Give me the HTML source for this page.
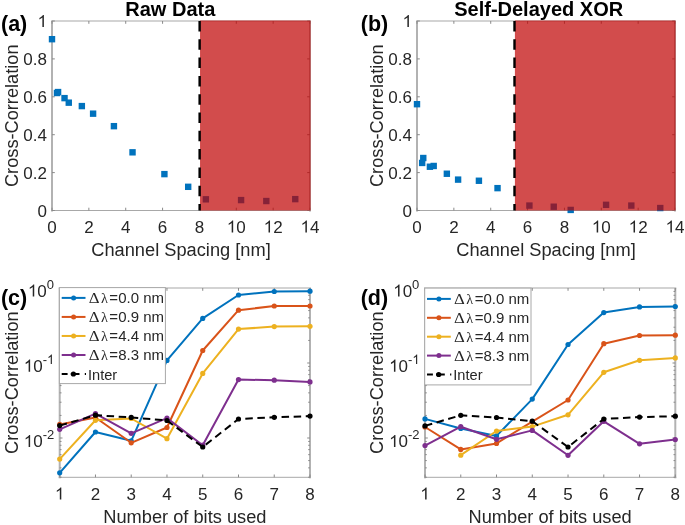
<!DOCTYPE html>
<html><head><meta charset="utf-8"><style>
html,body{margin:0;padding:0;background:#fff;width:685px;height:525px;overflow:hidden}
svg{display:block;font-family:"Liberation Sans", sans-serif;will-change:transform;font-kerning:none}
</style></head><body>
<svg width="685" height="525" viewBox="0 0 685 525">
<rect width="685" height="525" fill="#fff"/>
<rect x="51" y="21" width="2" height="190.5" fill="#b2b2b2"/>
<rect x="309" y="21" width="2" height="190.5" fill="#b2b2b2"/>
<rect x="51" y="20.5" width="260" height="1" fill="#a8a8a8"/>
<rect x="51" y="210.0" width="260" height="1" fill="#a8a8a8"/>
<rect x="51.50" y="207.7" width="1" height="2.8" fill="#8a8a8a"/>
<rect x="51.50" y="21" width="1" height="2.8" fill="#8a8a8a"/>
<rect x="88.36" y="207.7" width="1" height="2.8" fill="#8a8a8a"/>
<rect x="88.36" y="21" width="1" height="2.8" fill="#8a8a8a"/>
<rect x="125.21" y="207.7" width="1" height="2.8" fill="#8a8a8a"/>
<rect x="125.21" y="21" width="1" height="2.8" fill="#8a8a8a"/>
<rect x="162.07" y="207.7" width="1" height="2.8" fill="#8a8a8a"/>
<rect x="162.07" y="21" width="1" height="2.8" fill="#8a8a8a"/>
<rect x="198.93" y="207.7" width="1" height="2.8" fill="#8a8a8a"/>
<rect x="198.93" y="21" width="1" height="2.8" fill="#8a8a8a"/>
<rect x="235.79" y="207.7" width="1" height="2.8" fill="#8a8a8a"/>
<rect x="235.79" y="21" width="1" height="2.8" fill="#8a8a8a"/>
<rect x="272.64" y="207.7" width="1" height="2.8" fill="#8a8a8a"/>
<rect x="272.64" y="21" width="1" height="2.8" fill="#8a8a8a"/>
<rect x="309.50" y="207.7" width="1" height="2.8" fill="#8a8a8a"/>
<rect x="309.50" y="21" width="1" height="2.8" fill="#8a8a8a"/>
<rect x="52" y="210.00" width="2.8" height="1.0" fill="#8a8a8a"/>
<rect x="307.2" y="210.00" width="2.8" height="1.0" fill="#8a8a8a"/>
<rect x="52" y="172.10" width="2.8" height="1.0" fill="#8a8a8a"/>
<rect x="307.2" y="172.10" width="2.8" height="1.0" fill="#8a8a8a"/>
<rect x="52" y="134.20" width="2.8" height="1.0" fill="#8a8a8a"/>
<rect x="307.2" y="134.20" width="2.8" height="1.0" fill="#8a8a8a"/>
<rect x="52" y="96.30" width="2.8" height="1.0" fill="#8a8a8a"/>
<rect x="307.2" y="96.30" width="2.8" height="1.0" fill="#8a8a8a"/>
<rect x="52" y="58.40" width="2.8" height="1.0" fill="#8a8a8a"/>
<rect x="307.2" y="58.40" width="2.8" height="1.0" fill="#8a8a8a"/>
<rect x="52" y="20.50" width="2.8" height="1.0" fill="#8a8a8a"/>
<rect x="307.2" y="20.50" width="2.8" height="1.0" fill="#8a8a8a"/>
<rect x="48.80" y="35.99" width="6.4" height="6.4" fill="#0072bd"/>
<rect x="53.78" y="89.81" width="6.4" height="6.4" fill="#0072bd"/>
<rect x="54.88" y="88.86" width="6.4" height="6.4" fill="#0072bd"/>
<rect x="61.33" y="94.93" width="6.4" height="6.4" fill="#0072bd"/>
<rect x="65.57" y="99.47" width="6.4" height="6.4" fill="#0072bd"/>
<rect x="78.65" y="102.89" width="6.4" height="6.4" fill="#0072bd"/>
<rect x="89.90" y="110.47" width="6.4" height="6.4" fill="#0072bd"/>
<rect x="110.72" y="122.97" width="6.4" height="6.4" fill="#0072bd"/>
<rect x="129.33" y="149.12" width="6.4" height="6.4" fill="#0072bd"/>
<rect x="161.21" y="170.92" width="6.4" height="6.4" fill="#0072bd"/>
<rect x="184.99" y="183.61" width="6.4" height="6.4" fill="#0072bd"/>
<rect x="202.68" y="196.12" width="6.4" height="6.4" fill="#0072bd"/>
<rect x="237.88" y="196.88" width="6.4" height="6.4" fill="#0072bd"/>
<rect x="263.12" y="197.83" width="6.4" height="6.4" fill="#0072bd"/>
<rect x="292.06" y="195.93" width="6.4" height="6.4" fill="#0072bd"/>
<rect x="200.03" y="20.5" width="110.57" height="190.0" fill="rgb(191,0,0)" fill-opacity="0.7"/>
<line x1="199.63" y1="21" x2="199.63" y2="210.5" stroke="#000" stroke-width="2.4" stroke-dasharray="10.5 7.8"/>
<text transform="translate(47.27 232.60) scale(1 1.0)" font-size="17" fill="#262626">0</text>
<text transform="translate(84.13 232.60) scale(1 1.0)" font-size="17" fill="#262626">2</text>
<text transform="translate(120.98 232.60) scale(1 1.0)" font-size="17" fill="#262626">4</text>
<text transform="translate(157.84 232.60) scale(1 1.0)" font-size="17" fill="#262626">6</text>
<text transform="translate(194.70 232.60) scale(1 1.0)" font-size="17" fill="#262626">8</text>
<path transform="translate(226.84 232.60) scale(0.00830 -0.00830)" d="M763 0H583V1147Q518 1085 412.5 1023T223 930V1104Q375 1175 489 1276T650 1472H763V0Z" fill="#262626"/>
<text transform="translate(236.29 232.60) scale(1 1.0)" font-size="17" fill="#262626">0</text>
<path transform="translate(263.69 232.60) scale(0.00830 -0.00830)" d="M763 0H583V1147Q518 1085 412.5 1023T223 930V1104Q375 1175 489 1276T650 1472H763V0Z" fill="#262626"/>
<text transform="translate(273.14 232.60) scale(1 1.0)" font-size="17" fill="#262626">2</text>
<path transform="translate(300.55 232.60) scale(0.00830 -0.00830)" d="M763 0H583V1147Q518 1085 412.5 1023T223 930V1104Q375 1175 489 1276T650 1472H763V0Z" fill="#262626"/>
<text transform="translate(310.00 232.60) scale(1 1.0)" font-size="17" fill="#262626">4</text>
<text transform="translate(37.55 216.60) scale(1 1.0)" font-size="17" fill="#262626">0</text>
<text transform="translate(23.37 178.70) scale(1 1.0)" font-size="17" fill="#262626">0</text>
<text transform="translate(32.82 178.70) scale(1 1.0)" font-size="17" fill="#262626">.</text>
<text transform="translate(37.55 178.70) scale(1 1.0)" font-size="17" fill="#262626">2</text>
<text transform="translate(23.37 140.80) scale(1 1.0)" font-size="17" fill="#262626">0</text>
<text transform="translate(32.82 140.80) scale(1 1.0)" font-size="17" fill="#262626">.</text>
<text transform="translate(37.55 140.80) scale(1 1.0)" font-size="17" fill="#262626">4</text>
<text transform="translate(23.37 102.90) scale(1 1.0)" font-size="17" fill="#262626">0</text>
<text transform="translate(32.82 102.90) scale(1 1.0)" font-size="17" fill="#262626">.</text>
<text transform="translate(37.55 102.90) scale(1 1.0)" font-size="17" fill="#262626">6</text>
<text transform="translate(23.37 65.00) scale(1 1.0)" font-size="17" fill="#262626">0</text>
<text transform="translate(32.82 65.00) scale(1 1.0)" font-size="17" fill="#262626">.</text>
<text transform="translate(37.55 65.00) scale(1 1.0)" font-size="17" fill="#262626">8</text>
<path transform="translate(37.55 27.10) scale(0.00830 -0.00830)" d="M763 0H583V1147Q518 1085 412.5 1023T223 930V1104Q375 1175 489 1276T650 1472H763V0Z" fill="#262626"/>
<text transform="translate(181.00 255.9) scale(1 1.03)" font-size="18.25" text-anchor="middle" font-weight="normal" fill="#262626" >Channel Spacing [nm]</text>
<text transform="translate(17.80 115.75) rotate(-90) scale(1 1.03)" font-size="18.2" text-anchor="middle" fill="#262626">Cross-Correlation</text>
<text transform="translate(125.3 15.5) scale(1 1.0)" font-size="20" text-anchor="start" font-weight="bold" fill="#000" >Raw Data</text>
<text transform="translate(1.0 31.4) scale(1 1.03)" font-size="21.5" text-anchor="start" font-weight="bold" fill="#000" >(a)</text>
<rect x="416" y="21" width="2" height="190.5" fill="#b2b2b2"/>
<rect x="674" y="21" width="2" height="190.5" fill="#b2b2b2"/>
<rect x="416" y="20.5" width="260" height="1" fill="#a8a8a8"/>
<rect x="416" y="210.0" width="260" height="1" fill="#a8a8a8"/>
<rect x="416.50" y="207.7" width="1" height="2.8" fill="#8a8a8a"/>
<rect x="416.50" y="21" width="1" height="2.8" fill="#8a8a8a"/>
<rect x="453.36" y="207.7" width="1" height="2.8" fill="#8a8a8a"/>
<rect x="453.36" y="21" width="1" height="2.8" fill="#8a8a8a"/>
<rect x="490.21" y="207.7" width="1" height="2.8" fill="#8a8a8a"/>
<rect x="490.21" y="21" width="1" height="2.8" fill="#8a8a8a"/>
<rect x="527.07" y="207.7" width="1" height="2.8" fill="#8a8a8a"/>
<rect x="527.07" y="21" width="1" height="2.8" fill="#8a8a8a"/>
<rect x="563.93" y="207.7" width="1" height="2.8" fill="#8a8a8a"/>
<rect x="563.93" y="21" width="1" height="2.8" fill="#8a8a8a"/>
<rect x="600.79" y="207.7" width="1" height="2.8" fill="#8a8a8a"/>
<rect x="600.79" y="21" width="1" height="2.8" fill="#8a8a8a"/>
<rect x="637.64" y="207.7" width="1" height="2.8" fill="#8a8a8a"/>
<rect x="637.64" y="21" width="1" height="2.8" fill="#8a8a8a"/>
<rect x="674.50" y="207.7" width="1" height="2.8" fill="#8a8a8a"/>
<rect x="674.50" y="21" width="1" height="2.8" fill="#8a8a8a"/>
<rect x="417" y="210.00" width="2.8" height="1.0" fill="#8a8a8a"/>
<rect x="672.2" y="210.00" width="2.8" height="1.0" fill="#8a8a8a"/>
<rect x="417" y="172.10" width="2.8" height="1.0" fill="#8a8a8a"/>
<rect x="672.2" y="172.10" width="2.8" height="1.0" fill="#8a8a8a"/>
<rect x="417" y="134.20" width="2.8" height="1.0" fill="#8a8a8a"/>
<rect x="672.2" y="134.20" width="2.8" height="1.0" fill="#8a8a8a"/>
<rect x="417" y="96.30" width="2.8" height="1.0" fill="#8a8a8a"/>
<rect x="672.2" y="96.30" width="2.8" height="1.0" fill="#8a8a8a"/>
<rect x="417" y="58.40" width="2.8" height="1.0" fill="#8a8a8a"/>
<rect x="672.2" y="58.40" width="2.8" height="1.0" fill="#8a8a8a"/>
<rect x="417" y="20.50" width="2.8" height="1.0" fill="#8a8a8a"/>
<rect x="672.2" y="20.50" width="2.8" height="1.0" fill="#8a8a8a"/>
<rect x="413.80" y="100.99" width="6.4" height="6.4" fill="#0072bd"/>
<rect x="418.96" y="159.74" width="6.4" height="6.4" fill="#0072bd"/>
<rect x="420.07" y="154.81" width="6.4" height="6.4" fill="#0072bd"/>
<rect x="426.70" y="163.53" width="6.4" height="6.4" fill="#0072bd"/>
<rect x="430.50" y="162.77" width="6.4" height="6.4" fill="#0072bd"/>
<rect x="443.65" y="170.54" width="6.4" height="6.4" fill="#0072bd"/>
<rect x="454.90" y="176.41" width="6.4" height="6.4" fill="#0072bd"/>
<rect x="475.72" y="177.55" width="6.4" height="6.4" fill="#0072bd"/>
<rect x="494.33" y="184.94" width="6.4" height="6.4" fill="#0072bd"/>
<rect x="526.21" y="202.37" width="6.4" height="6.4" fill="#0072bd"/>
<rect x="550.54" y="203.51" width="6.4" height="6.4" fill="#0072bd"/>
<rect x="567.49" y="206.73" width="6.4" height="6.4" fill="#0072bd"/>
<rect x="602.88" y="201.62" width="6.4" height="6.4" fill="#0072bd"/>
<rect x="628.12" y="202.37" width="6.4" height="6.4" fill="#0072bd"/>
<rect x="657.06" y="204.84" width="6.4" height="6.4" fill="#0072bd"/>
<rect x="514.90" y="20.5" width="160.70" height="190.0" fill="rgb(191,0,0)" fill-opacity="0.7"/>
<line x1="514.50" y1="21" x2="514.50" y2="210.5" stroke="#000" stroke-width="2.4" stroke-dasharray="10.5 7.8"/>
<text transform="translate(412.27 232.60) scale(1 1.0)" font-size="17" fill="#262626">0</text>
<text transform="translate(449.13 232.60) scale(1 1.0)" font-size="17" fill="#262626">2</text>
<text transform="translate(485.98 232.60) scale(1 1.0)" font-size="17" fill="#262626">4</text>
<text transform="translate(522.84 232.60) scale(1 1.0)" font-size="17" fill="#262626">6</text>
<text transform="translate(559.70 232.60) scale(1 1.0)" font-size="17" fill="#262626">8</text>
<path transform="translate(591.84 232.60) scale(0.00830 -0.00830)" d="M763 0H583V1147Q518 1085 412.5 1023T223 930V1104Q375 1175 489 1276T650 1472H763V0Z" fill="#262626"/>
<text transform="translate(601.29 232.60) scale(1 1.0)" font-size="17" fill="#262626">0</text>
<path transform="translate(628.69 232.60) scale(0.00830 -0.00830)" d="M763 0H583V1147Q518 1085 412.5 1023T223 930V1104Q375 1175 489 1276T650 1472H763V0Z" fill="#262626"/>
<text transform="translate(638.14 232.60) scale(1 1.0)" font-size="17" fill="#262626">2</text>
<path transform="translate(665.55 232.60) scale(0.00830 -0.00830)" d="M763 0H583V1147Q518 1085 412.5 1023T223 930V1104Q375 1175 489 1276T650 1472H763V0Z" fill="#262626"/>
<text transform="translate(675.00 232.60) scale(1 1.0)" font-size="17" fill="#262626">4</text>
<text transform="translate(402.55 216.60) scale(1 1.0)" font-size="17" fill="#262626">0</text>
<text transform="translate(388.37 178.70) scale(1 1.0)" font-size="17" fill="#262626">0</text>
<text transform="translate(397.82 178.70) scale(1 1.0)" font-size="17" fill="#262626">.</text>
<text transform="translate(402.55 178.70) scale(1 1.0)" font-size="17" fill="#262626">2</text>
<text transform="translate(388.37 140.80) scale(1 1.0)" font-size="17" fill="#262626">0</text>
<text transform="translate(397.82 140.80) scale(1 1.0)" font-size="17" fill="#262626">.</text>
<text transform="translate(402.55 140.80) scale(1 1.0)" font-size="17" fill="#262626">4</text>
<text transform="translate(388.37 102.90) scale(1 1.0)" font-size="17" fill="#262626">0</text>
<text transform="translate(397.82 102.90) scale(1 1.0)" font-size="17" fill="#262626">.</text>
<text transform="translate(402.55 102.90) scale(1 1.0)" font-size="17" fill="#262626">6</text>
<text transform="translate(388.37 65.00) scale(1 1.0)" font-size="17" fill="#262626">0</text>
<text transform="translate(397.82 65.00) scale(1 1.0)" font-size="17" fill="#262626">.</text>
<text transform="translate(402.55 65.00) scale(1 1.0)" font-size="17" fill="#262626">8</text>
<path transform="translate(402.55 27.10) scale(0.00830 -0.00830)" d="M763 0H583V1147Q518 1085 412.5 1023T223 930V1104Q375 1175 489 1276T650 1472H763V0Z" fill="#262626"/>
<text transform="translate(546.00 255.9) scale(1 1.03)" font-size="18.25" text-anchor="middle" font-weight="normal" fill="#262626" >Channel Spacing [nm]</text>
<text transform="translate(382.80 115.75) rotate(-90) scale(1 1.03)" font-size="18.2" text-anchor="middle" fill="#262626">Cross-Correlation</text>
<text transform="translate(454.2 15.5) scale(1 1.0)" font-size="20" text-anchor="start" font-weight="bold" fill="#000" >Self-Delayed XOR</text>
<text transform="translate(360.8 31.4) scale(1 1.03)" font-size="21.5" text-anchor="start" font-weight="bold" fill="#000" >(b)</text>
<rect x="58.7" y="288" width="2" height="190.3" fill="#b2b2b2"/>
<rect x="309" y="288" width="2" height="190.3" fill="#b2b2b2"/>
<rect x="58.7" y="287.5" width="252.3" height="1" fill="#a8a8a8"/>
<rect x="58.7" y="476.8" width="252.3" height="1" fill="#a8a8a8"/>
<rect x="59.20" y="474.5" width="1" height="2.8" fill="#8a8a8a"/>
<rect x="59.20" y="288" width="1" height="2.8" fill="#8a8a8a"/>
<rect x="94.96" y="474.5" width="1" height="2.8" fill="#8a8a8a"/>
<rect x="94.96" y="288" width="1" height="2.8" fill="#8a8a8a"/>
<rect x="130.71" y="474.5" width="1" height="2.8" fill="#8a8a8a"/>
<rect x="130.71" y="288" width="1" height="2.8" fill="#8a8a8a"/>
<rect x="166.47" y="474.5" width="1" height="2.8" fill="#8a8a8a"/>
<rect x="166.47" y="288" width="1" height="2.8" fill="#8a8a8a"/>
<rect x="202.23" y="474.5" width="1" height="2.8" fill="#8a8a8a"/>
<rect x="202.23" y="288" width="1" height="2.8" fill="#8a8a8a"/>
<rect x="237.99" y="474.5" width="1" height="2.8" fill="#8a8a8a"/>
<rect x="237.99" y="288" width="1" height="2.8" fill="#8a8a8a"/>
<rect x="273.74" y="474.5" width="1" height="2.8" fill="#8a8a8a"/>
<rect x="273.74" y="288" width="1" height="2.8" fill="#8a8a8a"/>
<rect x="309.50" y="474.5" width="1" height="2.8" fill="#8a8a8a"/>
<rect x="309.50" y="288" width="1" height="2.8" fill="#8a8a8a"/>
<rect x="59.7" y="476.72" width="1.8" height="1" fill="#8a8a8a"/>
<rect x="308.2" y="476.72" width="1.8" height="1" fill="#8a8a8a"/>
<rect x="59.7" y="467.35" width="1.8" height="1" fill="#8a8a8a"/>
<rect x="308.2" y="467.35" width="1.8" height="1" fill="#8a8a8a"/>
<rect x="59.7" y="460.08" width="1.8" height="1" fill="#8a8a8a"/>
<rect x="308.2" y="460.08" width="1.8" height="1" fill="#8a8a8a"/>
<rect x="59.7" y="454.14" width="1.8" height="1" fill="#8a8a8a"/>
<rect x="308.2" y="454.14" width="1.8" height="1" fill="#8a8a8a"/>
<rect x="59.7" y="449.12" width="1.8" height="1" fill="#8a8a8a"/>
<rect x="308.2" y="449.12" width="1.8" height="1" fill="#8a8a8a"/>
<rect x="59.7" y="444.77" width="1.8" height="1" fill="#8a8a8a"/>
<rect x="308.2" y="444.77" width="1.8" height="1" fill="#8a8a8a"/>
<rect x="59.7" y="440.93" width="1.8" height="1" fill="#8a8a8a"/>
<rect x="308.2" y="440.93" width="1.8" height="1" fill="#8a8a8a"/>
<rect x="59.7" y="437.50" width="2.8" height="1" fill="#8a8a8a"/>
<rect x="307.2" y="437.50" width="2.8" height="1" fill="#8a8a8a"/>
<rect x="59.7" y="414.92" width="1.8" height="1" fill="#8a8a8a"/>
<rect x="308.2" y="414.92" width="1.8" height="1" fill="#8a8a8a"/>
<rect x="59.7" y="401.72" width="1.8" height="1" fill="#8a8a8a"/>
<rect x="308.2" y="401.72" width="1.8" height="1" fill="#8a8a8a"/>
<rect x="59.7" y="392.35" width="1.8" height="1" fill="#8a8a8a"/>
<rect x="308.2" y="392.35" width="1.8" height="1" fill="#8a8a8a"/>
<rect x="59.7" y="385.08" width="1.8" height="1" fill="#8a8a8a"/>
<rect x="308.2" y="385.08" width="1.8" height="1" fill="#8a8a8a"/>
<rect x="59.7" y="379.14" width="1.8" height="1" fill="#8a8a8a"/>
<rect x="308.2" y="379.14" width="1.8" height="1" fill="#8a8a8a"/>
<rect x="59.7" y="374.12" width="1.8" height="1" fill="#8a8a8a"/>
<rect x="308.2" y="374.12" width="1.8" height="1" fill="#8a8a8a"/>
<rect x="59.7" y="369.77" width="1.8" height="1" fill="#8a8a8a"/>
<rect x="308.2" y="369.77" width="1.8" height="1" fill="#8a8a8a"/>
<rect x="59.7" y="365.93" width="1.8" height="1" fill="#8a8a8a"/>
<rect x="308.2" y="365.93" width="1.8" height="1" fill="#8a8a8a"/>
<rect x="59.7" y="362.50" width="2.8" height="1" fill="#8a8a8a"/>
<rect x="307.2" y="362.50" width="2.8" height="1" fill="#8a8a8a"/>
<rect x="59.7" y="339.92" width="1.8" height="1" fill="#8a8a8a"/>
<rect x="308.2" y="339.92" width="1.8" height="1" fill="#8a8a8a"/>
<rect x="59.7" y="326.72" width="1.8" height="1" fill="#8a8a8a"/>
<rect x="308.2" y="326.72" width="1.8" height="1" fill="#8a8a8a"/>
<rect x="59.7" y="317.35" width="1.8" height="1" fill="#8a8a8a"/>
<rect x="308.2" y="317.35" width="1.8" height="1" fill="#8a8a8a"/>
<rect x="59.7" y="310.08" width="1.8" height="1" fill="#8a8a8a"/>
<rect x="308.2" y="310.08" width="1.8" height="1" fill="#8a8a8a"/>
<rect x="59.7" y="304.14" width="1.8" height="1" fill="#8a8a8a"/>
<rect x="308.2" y="304.14" width="1.8" height="1" fill="#8a8a8a"/>
<rect x="59.7" y="299.12" width="1.8" height="1" fill="#8a8a8a"/>
<rect x="308.2" y="299.12" width="1.8" height="1" fill="#8a8a8a"/>
<rect x="59.7" y="294.77" width="1.8" height="1" fill="#8a8a8a"/>
<rect x="308.2" y="294.77" width="1.8" height="1" fill="#8a8a8a"/>
<rect x="59.7" y="290.93" width="1.8" height="1" fill="#8a8a8a"/>
<rect x="308.2" y="290.93" width="1.8" height="1" fill="#8a8a8a"/>
<polyline points="59.70,472.80 95.46,432.00 131.21,440.80 166.97,360.40 202.73,318.40 238.49,295.00 274.24,291.50 310.00,291.20" fill="none" stroke="#0072bd" stroke-width="2" stroke-linejoin="round"/>
<circle cx="59.70" cy="472.80" r="2.6" fill="#0072bd"/>
<circle cx="95.46" cy="432.00" r="2.6" fill="#0072bd"/>
<circle cx="131.21" cy="440.80" r="2.6" fill="#0072bd"/>
<circle cx="166.97" cy="360.40" r="2.6" fill="#0072bd"/>
<circle cx="202.73" cy="318.40" r="2.6" fill="#0072bd"/>
<circle cx="238.49" cy="295.00" r="2.6" fill="#0072bd"/>
<circle cx="274.24" cy="291.50" r="2.6" fill="#0072bd"/>
<circle cx="310.00" cy="291.20" r="2.6" fill="#0072bd"/>
<polyline points="59.70,424.40 95.46,417.50 131.21,442.80 166.97,427.50 202.73,350.50 238.49,310.20 274.24,306.00 310.00,306.00" fill="none" stroke="#d95319" stroke-width="2" stroke-linejoin="round"/>
<circle cx="59.70" cy="424.40" r="2.6" fill="#d95319"/>
<circle cx="95.46" cy="417.50" r="2.6" fill="#d95319"/>
<circle cx="131.21" cy="442.80" r="2.6" fill="#d95319"/>
<circle cx="166.97" cy="427.50" r="2.6" fill="#d95319"/>
<circle cx="202.73" cy="350.50" r="2.6" fill="#d95319"/>
<circle cx="238.49" cy="310.20" r="2.6" fill="#d95319"/>
<circle cx="274.24" cy="306.00" r="2.6" fill="#d95319"/>
<circle cx="310.00" cy="306.00" r="2.6" fill="#d95319"/>
<polyline points="59.70,459.10 95.46,420.30 131.21,418.50 166.97,438.70 202.73,373.40 238.49,329.10 274.24,326.60 310.00,326.30" fill="none" stroke="#edb120" stroke-width="2" stroke-linejoin="round"/>
<circle cx="59.70" cy="459.10" r="2.6" fill="#edb120"/>
<circle cx="95.46" cy="420.30" r="2.6" fill="#edb120"/>
<circle cx="131.21" cy="418.50" r="2.6" fill="#edb120"/>
<circle cx="166.97" cy="438.70" r="2.6" fill="#edb120"/>
<circle cx="202.73" cy="373.40" r="2.6" fill="#edb120"/>
<circle cx="238.49" cy="329.10" r="2.6" fill="#edb120"/>
<circle cx="274.24" cy="326.60" r="2.6" fill="#edb120"/>
<circle cx="310.00" cy="326.30" r="2.6" fill="#edb120"/>
<polyline points="59.70,429.30 95.46,413.60 131.21,433.30 166.97,418.10 202.73,445.20 238.49,379.60 274.24,380.20 310.00,381.90" fill="none" stroke="#7e2f8e" stroke-width="2" stroke-linejoin="round"/>
<circle cx="59.70" cy="429.30" r="2.6" fill="#7e2f8e"/>
<circle cx="95.46" cy="413.60" r="2.6" fill="#7e2f8e"/>
<circle cx="131.21" cy="433.30" r="2.6" fill="#7e2f8e"/>
<circle cx="166.97" cy="418.10" r="2.6" fill="#7e2f8e"/>
<circle cx="202.73" cy="445.20" r="2.6" fill="#7e2f8e"/>
<circle cx="238.49" cy="379.60" r="2.6" fill="#7e2f8e"/>
<circle cx="274.24" cy="380.20" r="2.6" fill="#7e2f8e"/>
<circle cx="310.00" cy="381.90" r="2.6" fill="#7e2f8e"/>
<polyline points="59.70,425.60 95.46,415.20 131.21,417.40 166.97,420.50 202.73,447.00 238.49,419.00 274.24,417.30 310.00,416.10" fill="none" stroke="#000" stroke-width="2" stroke-dasharray="7.5 4.6"/>
<circle cx="59.70" cy="425.60" r="2.6" fill="#000"/>
<circle cx="95.46" cy="415.20" r="2.6" fill="#000"/>
<circle cx="131.21" cy="417.40" r="2.6" fill="#000"/>
<circle cx="166.97" cy="420.50" r="2.6" fill="#000"/>
<circle cx="202.73" cy="447.00" r="2.6" fill="#000"/>
<circle cx="238.49" cy="419.00" r="2.6" fill="#000"/>
<circle cx="274.24" cy="417.30" r="2.6" fill="#000"/>
<circle cx="310.00" cy="416.10" r="2.6" fill="#000"/>
<rect x="59.400000000000006" y="287.6" width="106.0" height="96.0" fill="#fff" stroke="#a8a8a8" stroke-width="1"/>
<line x1="61.7" y1="297.90" x2="85.5" y2="297.90" stroke="#0072bd" stroke-width="2"/>
<circle cx="73.6" cy="297.90" r="2.5" fill="#0072bd"/>
<text transform="translate(88.66 303.30) scale(1.12 1)" font-size="15.0" font-family="Liberation Serif" fill="#262626">&#916;</text>
<text x="101.03" y="303.30" font-size="14.2" font-family="Liberation Serif" fill="#262626">&#955;</text>
<text transform="translate(109.37 303.30) scale(1 1.03)" font-size="15" fill="#262626">=0.0 nm</text>
<line x1="61.7" y1="316.93" x2="85.5" y2="316.93" stroke="#d95319" stroke-width="2"/>
<circle cx="73.6" cy="316.93" r="2.5" fill="#d95319"/>
<text transform="translate(88.66 322.33) scale(1.12 1)" font-size="15.0" font-family="Liberation Serif" fill="#262626">&#916;</text>
<text x="101.03" y="322.33" font-size="14.2" font-family="Liberation Serif" fill="#262626">&#955;</text>
<text transform="translate(109.37 322.33) scale(1 1.03)" font-size="15" fill="#262626">=0.9 nm</text>
<line x1="61.7" y1="335.96" x2="85.5" y2="335.96" stroke="#edb120" stroke-width="2"/>
<circle cx="73.6" cy="335.96" r="2.5" fill="#edb120"/>
<text transform="translate(88.66 341.36) scale(1.12 1)" font-size="15.0" font-family="Liberation Serif" fill="#262626">&#916;</text>
<text x="101.03" y="341.36" font-size="14.2" font-family="Liberation Serif" fill="#262626">&#955;</text>
<text transform="translate(109.37 341.36) scale(1 1.03)" font-size="15" fill="#262626">=4.4 nm</text>
<line x1="61.7" y1="354.99" x2="85.5" y2="354.99" stroke="#7e2f8e" stroke-width="2"/>
<circle cx="73.6" cy="354.99" r="2.5" fill="#7e2f8e"/>
<text transform="translate(88.66 360.39) scale(1.12 1)" font-size="15.0" font-family="Liberation Serif" fill="#262626">&#916;</text>
<text x="101.03" y="360.39" font-size="14.2" font-family="Liberation Serif" fill="#262626">&#955;</text>
<text transform="translate(109.37 360.39) scale(1 1.03)" font-size="15" fill="#262626">=8.3 nm</text>
<line x1="61.7" y1="374.02" x2="67.6" y2="374.02" stroke="#000" stroke-width="2"/>
<line x1="70.8" y1="374.02" x2="79.5" y2="374.02" stroke="#000" stroke-width="2"/>
<line x1="84.8" y1="374.02" x2="86" y2="374.02" stroke="#000" stroke-width="2"/>
<circle cx="73.4" cy="374.02" r="2.6" fill="#000"/>
<text transform="translate(88.0 379.62) scale(1 1.0)" font-size="14.6" fill="#262626">Inter</text>
<path transform="translate(54.97 499.60) scale(0.00830 -0.00830)" d="M763 0H583V1147Q518 1085 412.5 1023T223 930V1104Q375 1175 489 1276T650 1472H763V0Z" fill="#262626"/>
<text transform="translate(90.73 499.60) scale(1 1.0)" font-size="17" fill="#262626">2</text>
<text transform="translate(126.48 499.60) scale(1 1.0)" font-size="17" fill="#262626">3</text>
<text transform="translate(162.24 499.60) scale(1 1.0)" font-size="17" fill="#262626">4</text>
<text transform="translate(198.00 499.60) scale(1 1.0)" font-size="17" fill="#262626">5</text>
<text transform="translate(233.76 499.60) scale(1 1.0)" font-size="17" fill="#262626">6</text>
<text transform="translate(269.51 499.60) scale(1 1.0)" font-size="17" fill="#262626">7</text>
<text transform="translate(305.27 499.60) scale(1 1.0)" font-size="17" fill="#262626">8</text>
<path transform="translate(27.90 296.60) scale(0.00830 -0.00830)" d="M763 0H583V1147Q518 1085 412.5 1023T223 930V1104Q375 1175 489 1276T650 1472H763V0Z" fill="#262626"/>
<text transform="translate(37.35 296.60) scale(1 1.0)" font-size="17" fill="#262626">0</text>
<text transform="translate(46.81 288.80) scale(1 1.0)" font-size="13" fill="#262626">0</text>
<path transform="translate(23.80 371.70) scale(0.00830 -0.00830)" d="M763 0H583V1147Q518 1085 412.5 1023T223 930V1104Q375 1175 489 1276T650 1472H763V0Z" fill="#262626"/>
<text transform="translate(33.25 371.70) scale(1 1.0)" font-size="17" fill="#262626">0</text>
<text transform="translate(42.71 363.90) scale(1 1.0)" font-size="13" fill="#262626">-</text>
<path transform="translate(47.04 363.90) scale(0.00635 -0.00635)" d="M763 0H583V1147Q518 1085 412.5 1023T223 930V1104Q375 1175 489 1276T650 1472H763V0Z" fill="#262626"/>
<path transform="translate(23.80 447.10) scale(0.00830 -0.00830)" d="M763 0H583V1147Q518 1085 412.5 1023T223 930V1104Q375 1175 489 1276T650 1472H763V0Z" fill="#262626"/>
<text transform="translate(33.25 447.10) scale(1 1.0)" font-size="17" fill="#262626">0</text>
<text transform="translate(42.71 439.30) scale(1 1.0)" font-size="13" fill="#262626">-</text>
<text transform="translate(47.04 439.30) scale(1 1.0)" font-size="13" fill="#262626">2</text>
<text transform="translate(184.85 523.0) scale(1 1.03)" font-size="18.25" text-anchor="middle" font-weight="normal" fill="#262626" >Number of bits used</text>
<text transform="translate(17.80 382.65) rotate(-90) scale(1 1.03)" font-size="18.2" text-anchor="middle" fill="#262626">Cross-Correlation</text>
<text transform="translate(0.9 304.8) scale(1 1.03)" font-size="21.5" text-anchor="start" font-weight="bold" fill="#000" >(c)</text>
<rect x="424.0" y="288" width="2" height="190.3" fill="#b2b2b2"/>
<rect x="674.3" y="288" width="2" height="190.3" fill="#b2b2b2"/>
<rect x="424.0" y="287.5" width="252.29999999999995" height="1" fill="#a8a8a8"/>
<rect x="424.0" y="476.8" width="252.29999999999995" height="1" fill="#a8a8a8"/>
<rect x="424.50" y="474.5" width="1" height="2.8" fill="#8a8a8a"/>
<rect x="424.50" y="288" width="1" height="2.8" fill="#8a8a8a"/>
<rect x="460.26" y="474.5" width="1" height="2.8" fill="#8a8a8a"/>
<rect x="460.26" y="288" width="1" height="2.8" fill="#8a8a8a"/>
<rect x="496.01" y="474.5" width="1" height="2.8" fill="#8a8a8a"/>
<rect x="496.01" y="288" width="1" height="2.8" fill="#8a8a8a"/>
<rect x="531.77" y="474.5" width="1" height="2.8" fill="#8a8a8a"/>
<rect x="531.77" y="288" width="1" height="2.8" fill="#8a8a8a"/>
<rect x="567.53" y="474.5" width="1" height="2.8" fill="#8a8a8a"/>
<rect x="567.53" y="288" width="1" height="2.8" fill="#8a8a8a"/>
<rect x="603.29" y="474.5" width="1" height="2.8" fill="#8a8a8a"/>
<rect x="603.29" y="288" width="1" height="2.8" fill="#8a8a8a"/>
<rect x="639.04" y="474.5" width="1" height="2.8" fill="#8a8a8a"/>
<rect x="639.04" y="288" width="1" height="2.8" fill="#8a8a8a"/>
<rect x="674.80" y="474.5" width="1" height="2.8" fill="#8a8a8a"/>
<rect x="674.80" y="288" width="1" height="2.8" fill="#8a8a8a"/>
<rect x="425.0" y="476.72" width="1.8" height="1" fill="#8a8a8a"/>
<rect x="673.5" y="476.72" width="1.8" height="1" fill="#8a8a8a"/>
<rect x="425.0" y="467.35" width="1.8" height="1" fill="#8a8a8a"/>
<rect x="673.5" y="467.35" width="1.8" height="1" fill="#8a8a8a"/>
<rect x="425.0" y="460.08" width="1.8" height="1" fill="#8a8a8a"/>
<rect x="673.5" y="460.08" width="1.8" height="1" fill="#8a8a8a"/>
<rect x="425.0" y="454.14" width="1.8" height="1" fill="#8a8a8a"/>
<rect x="673.5" y="454.14" width="1.8" height="1" fill="#8a8a8a"/>
<rect x="425.0" y="449.12" width="1.8" height="1" fill="#8a8a8a"/>
<rect x="673.5" y="449.12" width="1.8" height="1" fill="#8a8a8a"/>
<rect x="425.0" y="444.77" width="1.8" height="1" fill="#8a8a8a"/>
<rect x="673.5" y="444.77" width="1.8" height="1" fill="#8a8a8a"/>
<rect x="425.0" y="440.93" width="1.8" height="1" fill="#8a8a8a"/>
<rect x="673.5" y="440.93" width="1.8" height="1" fill="#8a8a8a"/>
<rect x="425.0" y="437.50" width="2.8" height="1" fill="#8a8a8a"/>
<rect x="672.5" y="437.50" width="2.8" height="1" fill="#8a8a8a"/>
<rect x="425.0" y="414.92" width="1.8" height="1" fill="#8a8a8a"/>
<rect x="673.5" y="414.92" width="1.8" height="1" fill="#8a8a8a"/>
<rect x="425.0" y="401.72" width="1.8" height="1" fill="#8a8a8a"/>
<rect x="673.5" y="401.72" width="1.8" height="1" fill="#8a8a8a"/>
<rect x="425.0" y="392.35" width="1.8" height="1" fill="#8a8a8a"/>
<rect x="673.5" y="392.35" width="1.8" height="1" fill="#8a8a8a"/>
<rect x="425.0" y="385.08" width="1.8" height="1" fill="#8a8a8a"/>
<rect x="673.5" y="385.08" width="1.8" height="1" fill="#8a8a8a"/>
<rect x="425.0" y="379.14" width="1.8" height="1" fill="#8a8a8a"/>
<rect x="673.5" y="379.14" width="1.8" height="1" fill="#8a8a8a"/>
<rect x="425.0" y="374.12" width="1.8" height="1" fill="#8a8a8a"/>
<rect x="673.5" y="374.12" width="1.8" height="1" fill="#8a8a8a"/>
<rect x="425.0" y="369.77" width="1.8" height="1" fill="#8a8a8a"/>
<rect x="673.5" y="369.77" width="1.8" height="1" fill="#8a8a8a"/>
<rect x="425.0" y="365.93" width="1.8" height="1" fill="#8a8a8a"/>
<rect x="673.5" y="365.93" width="1.8" height="1" fill="#8a8a8a"/>
<rect x="425.0" y="362.50" width="2.8" height="1" fill="#8a8a8a"/>
<rect x="672.5" y="362.50" width="2.8" height="1" fill="#8a8a8a"/>
<rect x="425.0" y="339.92" width="1.8" height="1" fill="#8a8a8a"/>
<rect x="673.5" y="339.92" width="1.8" height="1" fill="#8a8a8a"/>
<rect x="425.0" y="326.72" width="1.8" height="1" fill="#8a8a8a"/>
<rect x="673.5" y="326.72" width="1.8" height="1" fill="#8a8a8a"/>
<rect x="425.0" y="317.35" width="1.8" height="1" fill="#8a8a8a"/>
<rect x="673.5" y="317.35" width="1.8" height="1" fill="#8a8a8a"/>
<rect x="425.0" y="310.08" width="1.8" height="1" fill="#8a8a8a"/>
<rect x="673.5" y="310.08" width="1.8" height="1" fill="#8a8a8a"/>
<rect x="425.0" y="304.14" width="1.8" height="1" fill="#8a8a8a"/>
<rect x="673.5" y="304.14" width="1.8" height="1" fill="#8a8a8a"/>
<rect x="425.0" y="299.12" width="1.8" height="1" fill="#8a8a8a"/>
<rect x="673.5" y="299.12" width="1.8" height="1" fill="#8a8a8a"/>
<rect x="425.0" y="294.77" width="1.8" height="1" fill="#8a8a8a"/>
<rect x="673.5" y="294.77" width="1.8" height="1" fill="#8a8a8a"/>
<rect x="425.0" y="290.93" width="1.8" height="1" fill="#8a8a8a"/>
<rect x="673.5" y="290.93" width="1.8" height="1" fill="#8a8a8a"/>
<polyline points="425.00,418.90 460.76,428.50 496.51,435.90 532.27,399.10 568.03,344.50 603.79,312.60 639.54,306.90 675.30,306.50" fill="none" stroke="#0072bd" stroke-width="2" stroke-linejoin="round"/>
<circle cx="425.00" cy="418.90" r="2.6" fill="#0072bd"/>
<circle cx="460.76" cy="428.50" r="2.6" fill="#0072bd"/>
<circle cx="496.51" cy="435.90" r="2.6" fill="#0072bd"/>
<circle cx="532.27" cy="399.10" r="2.6" fill="#0072bd"/>
<circle cx="568.03" cy="344.50" r="2.6" fill="#0072bd"/>
<circle cx="603.79" cy="312.60" r="2.6" fill="#0072bd"/>
<circle cx="639.54" cy="306.90" r="2.6" fill="#0072bd"/>
<circle cx="675.30" cy="306.50" r="2.6" fill="#0072bd"/>
<polyline points="425.00,427.00 460.76,449.40 496.51,443.40 532.27,421.60 568.03,400.00 603.79,343.70 639.54,335.50 675.30,335.20" fill="none" stroke="#d95319" stroke-width="2" stroke-linejoin="round"/>
<circle cx="425.00" cy="427.00" r="2.6" fill="#d95319"/>
<circle cx="460.76" cy="449.40" r="2.6" fill="#d95319"/>
<circle cx="496.51" cy="443.40" r="2.6" fill="#d95319"/>
<circle cx="532.27" cy="421.60" r="2.6" fill="#d95319"/>
<circle cx="568.03" cy="400.00" r="2.6" fill="#d95319"/>
<circle cx="603.79" cy="343.70" r="2.6" fill="#d95319"/>
<circle cx="639.54" cy="335.50" r="2.6" fill="#d95319"/>
<circle cx="675.30" cy="335.20" r="2.6" fill="#d95319"/>
<polyline points="460.76,455.20 496.51,431.00 532.27,426.60 568.03,414.80 603.79,372.30 639.54,360.30 675.30,357.90" fill="none" stroke="#edb120" stroke-width="2" stroke-linejoin="round"/>
<circle cx="460.76" cy="455.20" r="2.6" fill="#edb120"/>
<circle cx="496.51" cy="431.00" r="2.6" fill="#edb120"/>
<circle cx="532.27" cy="426.60" r="2.6" fill="#edb120"/>
<circle cx="568.03" cy="414.80" r="2.6" fill="#edb120"/>
<circle cx="603.79" cy="372.30" r="2.6" fill="#edb120"/>
<circle cx="639.54" cy="360.30" r="2.6" fill="#edb120"/>
<circle cx="675.30" cy="357.90" r="2.6" fill="#edb120"/>
<polyline points="425.00,445.60 460.76,426.70 496.51,439.30 532.27,430.40 568.03,455.30 603.79,421.30 639.54,443.80 675.30,439.60" fill="none" stroke="#7e2f8e" stroke-width="2" stroke-linejoin="round"/>
<circle cx="425.00" cy="445.60" r="2.6" fill="#7e2f8e"/>
<circle cx="460.76" cy="426.70" r="2.6" fill="#7e2f8e"/>
<circle cx="496.51" cy="439.30" r="2.6" fill="#7e2f8e"/>
<circle cx="532.27" cy="430.40" r="2.6" fill="#7e2f8e"/>
<circle cx="568.03" cy="455.30" r="2.6" fill="#7e2f8e"/>
<circle cx="603.79" cy="421.30" r="2.6" fill="#7e2f8e"/>
<circle cx="639.54" cy="443.80" r="2.6" fill="#7e2f8e"/>
<circle cx="675.30" cy="439.60" r="2.6" fill="#7e2f8e"/>
<polyline points="425.00,425.90 460.76,415.30 496.51,417.50 532.27,421.20 568.03,447.00 603.79,419.00 639.54,417.10 675.30,416.20" fill="none" stroke="#000" stroke-width="2" stroke-dasharray="7.5 4.6"/>
<circle cx="425.00" cy="425.90" r="2.6" fill="#000"/>
<circle cx="460.76" cy="415.30" r="2.6" fill="#000"/>
<circle cx="496.51" cy="417.50" r="2.6" fill="#000"/>
<circle cx="532.27" cy="421.20" r="2.6" fill="#000"/>
<circle cx="568.03" cy="447.00" r="2.6" fill="#000"/>
<circle cx="603.79" cy="419.00" r="2.6" fill="#000"/>
<circle cx="639.54" cy="417.10" r="2.6" fill="#000"/>
<circle cx="675.30" cy="416.20" r="2.6" fill="#000"/>
<rect x="424.7" y="288.1" width="106.30000000000001" height="96.79999999999995" fill="#fff" stroke="#a8a8a8" stroke-width="1"/>
<line x1="427.0" y1="298.90" x2="450.8" y2="298.90" stroke="#0072bd" stroke-width="2"/>
<circle cx="438.9" cy="298.90" r="2.5" fill="#0072bd"/>
<text transform="translate(453.96 304.30) scale(1.12 1)" font-size="15.0" font-family="Liberation Serif" fill="#262626">&#916;</text>
<text x="466.33" y="304.30" font-size="14.2" font-family="Liberation Serif" fill="#262626">&#955;</text>
<text transform="translate(474.67 304.30) scale(1 1.03)" font-size="15" fill="#262626">=0.0 nm</text>
<line x1="427.0" y1="317.80" x2="450.8" y2="317.80" stroke="#d95319" stroke-width="2"/>
<circle cx="438.9" cy="317.80" r="2.5" fill="#d95319"/>
<text transform="translate(453.96 323.20) scale(1.12 1)" font-size="15.0" font-family="Liberation Serif" fill="#262626">&#916;</text>
<text x="466.33" y="323.20" font-size="14.2" font-family="Liberation Serif" fill="#262626">&#955;</text>
<text transform="translate(474.67 323.20) scale(1 1.03)" font-size="15" fill="#262626">=0.9 nm</text>
<line x1="427.0" y1="336.70" x2="450.8" y2="336.70" stroke="#edb120" stroke-width="2"/>
<circle cx="438.9" cy="336.70" r="2.5" fill="#edb120"/>
<text transform="translate(453.96 342.10) scale(1.12 1)" font-size="15.0" font-family="Liberation Serif" fill="#262626">&#916;</text>
<text x="466.33" y="342.10" font-size="14.2" font-family="Liberation Serif" fill="#262626">&#955;</text>
<text transform="translate(474.67 342.10) scale(1 1.03)" font-size="15" fill="#262626">=4.4 nm</text>
<line x1="427.0" y1="355.60" x2="450.8" y2="355.60" stroke="#7e2f8e" stroke-width="2"/>
<circle cx="438.9" cy="355.60" r="2.5" fill="#7e2f8e"/>
<text transform="translate(453.96 361.00) scale(1.12 1)" font-size="15.0" font-family="Liberation Serif" fill="#262626">&#916;</text>
<text x="466.33" y="361.00" font-size="14.2" font-family="Liberation Serif" fill="#262626">&#955;</text>
<text transform="translate(474.67 361.00) scale(1 1.03)" font-size="15" fill="#262626">=8.3 nm</text>
<line x1="427.0" y1="374.50" x2="432.9" y2="374.50" stroke="#000" stroke-width="2"/>
<line x1="436.1" y1="374.50" x2="444.8" y2="374.50" stroke="#000" stroke-width="2"/>
<line x1="450.1" y1="374.50" x2="451.3" y2="374.50" stroke="#000" stroke-width="2"/>
<circle cx="438.70000000000005" cy="374.50" r="2.6" fill="#000"/>
<text transform="translate(453.3 380.10) scale(1 1.0)" font-size="14.6" fill="#262626">Inter</text>
<path transform="translate(420.27 499.60) scale(0.00830 -0.00830)" d="M763 0H583V1147Q518 1085 412.5 1023T223 930V1104Q375 1175 489 1276T650 1472H763V0Z" fill="#262626"/>
<text transform="translate(456.03 499.60) scale(1 1.0)" font-size="17" fill="#262626">2</text>
<text transform="translate(491.78 499.60) scale(1 1.0)" font-size="17" fill="#262626">3</text>
<text transform="translate(527.54 499.60) scale(1 1.0)" font-size="17" fill="#262626">4</text>
<text transform="translate(563.30 499.60) scale(1 1.0)" font-size="17" fill="#262626">5</text>
<text transform="translate(599.06 499.60) scale(1 1.0)" font-size="17" fill="#262626">6</text>
<text transform="translate(634.81 499.60) scale(1 1.0)" font-size="17" fill="#262626">7</text>
<text transform="translate(670.57 499.60) scale(1 1.0)" font-size="17" fill="#262626">8</text>
<path transform="translate(393.20 296.60) scale(0.00830 -0.00830)" d="M763 0H583V1147Q518 1085 412.5 1023T223 930V1104Q375 1175 489 1276T650 1472H763V0Z" fill="#262626"/>
<text transform="translate(402.65 296.60) scale(1 1.0)" font-size="17" fill="#262626">0</text>
<text transform="translate(412.11 288.80) scale(1 1.0)" font-size="13" fill="#262626">0</text>
<path transform="translate(389.10 371.70) scale(0.00830 -0.00830)" d="M763 0H583V1147Q518 1085 412.5 1023T223 930V1104Q375 1175 489 1276T650 1472H763V0Z" fill="#262626"/>
<text transform="translate(398.55 371.70) scale(1 1.0)" font-size="17" fill="#262626">0</text>
<text transform="translate(408.01 363.90) scale(1 1.0)" font-size="13" fill="#262626">-</text>
<path transform="translate(412.34 363.90) scale(0.00635 -0.00635)" d="M763 0H583V1147Q518 1085 412.5 1023T223 930V1104Q375 1175 489 1276T650 1472H763V0Z" fill="#262626"/>
<path transform="translate(389.10 447.10) scale(0.00830 -0.00830)" d="M763 0H583V1147Q518 1085 412.5 1023T223 930V1104Q375 1175 489 1276T650 1472H763V0Z" fill="#262626"/>
<text transform="translate(398.55 447.10) scale(1 1.0)" font-size="17" fill="#262626">0</text>
<text transform="translate(408.01 439.30) scale(1 1.0)" font-size="13" fill="#262626">-</text>
<text transform="translate(412.34 439.30) scale(1 1.0)" font-size="13" fill="#262626">2</text>
<text transform="translate(550.15 523.0) scale(1 1.03)" font-size="18.25" text-anchor="middle" font-weight="normal" fill="#262626" >Number of bits used</text>
<text transform="translate(383.10 382.65) rotate(-90) scale(1 1.03)" font-size="18.2" text-anchor="middle" fill="#262626">Cross-Correlation</text>
<text transform="translate(360.7 304.8) scale(1 1.03)" font-size="21.5" text-anchor="start" font-weight="bold" fill="#000" >(d)</text>
</svg></body></html>
